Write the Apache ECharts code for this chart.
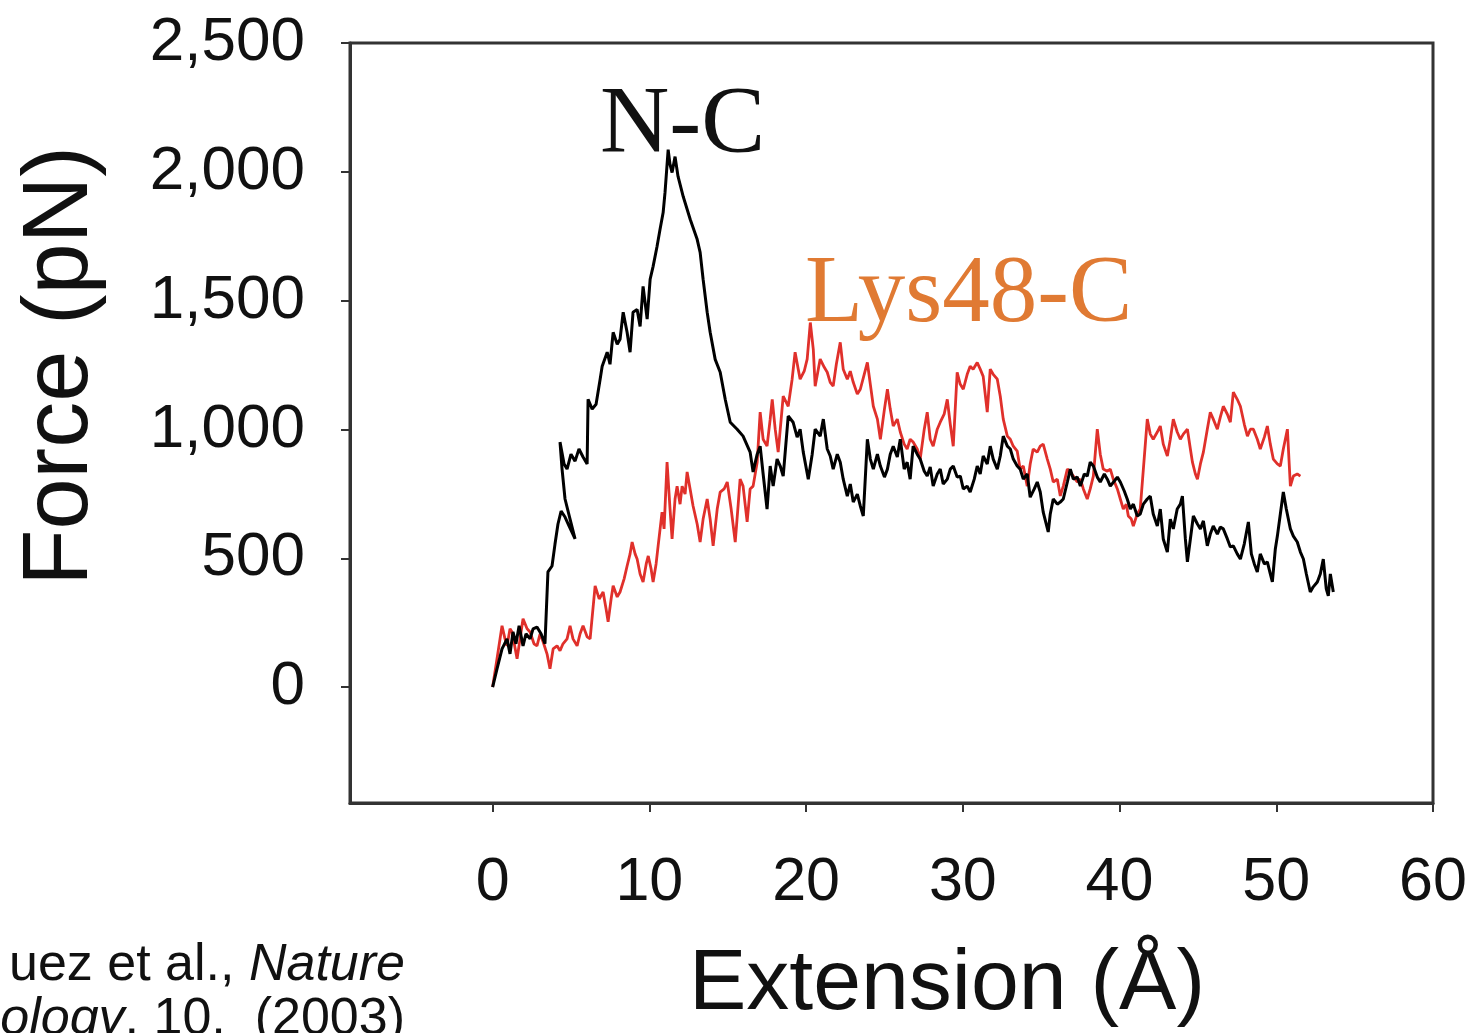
<!DOCTYPE html>
<html>
<head>
<meta charset="utf-8">
<title>Force vs Extension</title>
<script src="https://cdn.jsdelivr.net/npm/echarts@6/dist/echarts.min.js"></script>
<style>
  html, body { margin: 0; padding: 0; background: #fff; }
  #main { width: 1477px; height: 1033px; }
</style>
</head>
<body>
<div id="main"></div>
<script>
'use strict'
// tick labels
var xTicks = [0, 10, 20, 30, 40, 50, 60];
var yTicks = [0, 500, 1000, 1500, 2000, 2500];

// N-C pulling trace: [extension (Å), force (pN)]
var ncTrace = [[0,0],[0.28,71],[0.60,148],[0.92,187],[1.11,129],[1.30,214],[1.49,168],[1.69,238],[1.94,160],[2.13,207],[2.39,187],[2.58,226],[2.83,233],[3.09,207],[3.34,168],[3.53,447],[3.79,470],[3.98,555],[4.17,633],[4.37,683],[4.62,660],[4.88,625],[5.26,575],[4.94,652],[4.62,730],[4.43,846],[4.30,951],[4.56,866],[4.75,846],[5.00,904],[5.26,877],[5.51,924],[5.77,893],[6.03,866],[6.09,1117],[6.35,1079],[6.60,1098],[6.86,1195],[6.99,1245],[7.31,1300],[7.49,1253],[7.69,1377],[7.95,1331],[8.13,1350],[8.33,1455],[8.58,1377],[8.77,1300],[8.96,1455],[9.22,1466],[9.41,1400],[9.60,1555],[9.86,1428],[10.05,1583],[10.24,1633],[10.49,1710],[10.68,1776],[10.88,1842],[11.00,1920],[11.20,2086],[11.32,2028],[11.45,1997],[11.64,2059],[11.83,1982],[12.16,1904],[12.61,1815],[13.05,1738],[13.24,1687],[13.43,1583],[13.69,1455],[13.88,1377],[14.20,1272],[14.52,1222],[14.84,1117],[15.16,1028],[15.60,1001],[15.98,974],[16.43,912],[16.62,835],[16.88,904],[17.07,935],[17.26,827],[17.51,691],[17.71,858],[17.90,780],[18.15,885],[18.35,858],[18.54,819],[18.86,1052],[19.17,1028],[19.43,970],[19.62,1001],[19.82,912],[20.14,807],[20.39,904],[20.58,1001],[20.90,974],[21.10,1040],[21.35,924],[21.54,897],[21.73,846],[21.99,904],[22.18,873],[22.37,807],[22.63,741],[22.82,788],[23.01,718],[23.27,749],[23.46,703],[23.65,664],[23.91,962],[24.10,885],[24.29,846],[24.55,904],[24.74,858],[25.00,815],[25.19,846],[25.37,904],[25.56,935],[25.82,893],[26.01,962],[26.26,846],[26.45,873],[26.64,807],[26.83,935],[27.09,904],[27.28,885],[27.54,838],[27.73,819],[27.92,854],[28.11,780],[28.37,827],[28.56,846],[28.75,788],[29.01,807],[29.20,846],[29.39,858],[29.64,815],[29.84,819],[30.03,769],[30.28,780],[30.47,757],[30.73,807],[30.92,858],[31.11,827],[31.30,897],[31.56,866],[31.75,935],[31.94,885],[32.20,846],[32.39,897],[32.58,974],[32.84,935],[33.03,924],[33.22,885],[33.47,858],[33.66,846],[33.86,807],[34.11,827],[34.30,737],[34.56,769],[34.75,796],[34.94,757],[35.13,679],[35.45,602],[35.58,672],[35.77,730],[36.03,710],[36.22,718],[36.41,730],[36.67,796],[36.86,846],[37.05,807],[37.30,815],[37.50,780],[37.75,827],[37.94,819],[38.13,873],[38.33,858],[38.58,815],[38.77,796],[39.03,827],[39.22,807],[39.41,780],[39.67,800],[39.86,815],[40.05,796],[40.30,761],[40.49,730],[40.69,691],[40.88,710],[41.13,664],[41.32,672],[41.52,710],[41.77,730],[41.96,741],[42.15,672],[42.41,625],[42.60,691],[42.79,575],[43.05,524],[43.24,652],[43.43,614],[43.68,691],[43.88,710],[44.01,741],[44.20,575],[44.33,486],[44.52,575],[44.71,664],[44.97,633],[45.16,614],[45.35,645],[45.60,548],[45.79,594],[45.98,625],[46.24,594],[46.43,621],[46.62,614],[46.88,575],[47.07,544],[47.26,548],[47.51,517],[47.71,497],[47.96,556],[48.22,641],[48.41,517],[48.60,478],[48.79,447],[48.98,517],[49.24,478],[49.43,486],[49.62,439],[49.75,408],[49.94,536],[50.07,586],[50.26,672],[50.45,757],[50.64,691],[50.90,614],[51.09,586],[51.34,563],[51.54,524],[51.73,497],[51.92,439],[52.17,369],[52.36,389],[52.62,408],[52.81,439],[53.00,497],[53.19,381],[53.32,354],[53.45,439],[53.64,369]];

// Lys48-C pulling trace: [extension (Å), force (pN)]
var lysTrace = [[0,0],[0.28,110],[0.60,238],[0.79,187],[0.92,160],[1.11,226],[1.24,214],[1.56,110],[1.75,187],[1.94,265],[2.20,226],[2.39,214],[2.64,168],[2.83,160],[3.03,207],[3.22,176],[3.47,129],[3.66,71],[3.86,148],[4.11,160],[4.30,141],[4.49,168],[4.75,187],[4.94,238],[5.13,187],[5.39,160],[5.58,207],[5.77,238],[6.03,195],[6.22,187],[6.54,393],[6.80,342],[7.05,369],[7.24,303],[7.37,253],[7.56,342],[7.69,393],[7.95,350],[8.13,369],[8.39,420],[8.58,470],[8.77,517],[8.90,563],[9.09,517],[9.22,497],[9.41,439],[9.60,408],[9.80,478],[9.93,509],[10.11,459],[10.24,408],[10.43,478],[10.56,548],[10.81,679],[10.94,614],[11.13,873],[11.32,691],[11.45,575],[11.64,730],[11.77,780],[11.96,710],[12.09,780],[12.28,749],[12.41,835],[12.60,769],[12.79,703],[13.05,633],[13.24,563],[13.43,652],[13.69,730],[13.88,652],[14.07,548],[14.33,691],[14.52,757],[14.77,769],[14.97,796],[15.22,691],[15.48,563],[15.67,710],[15.79,807],[15.98,780],[16.24,641],[16.43,769],[16.62,780],[16.88,873],[17.07,1067],[17.26,962],[17.51,935],[17.71,1040],[17.84,1117],[18.03,1001],[18.22,912],[18.41,1040],[18.54,1129],[18.86,1090],[19.11,1195],[19.30,1300],[19.50,1234],[19.62,1195],[19.88,1226],[20.07,1273],[20.27,1415],[20.46,1311],[20.58,1168],[20.78,1234],[20.90,1273],[21.16,1241],[21.35,1222],[21.54,1183],[21.73,1168],[21.93,1253],[22.18,1338],[22.37,1234],[22.63,1195],[22.82,1226],[23.01,1183],[23.27,1137],[23.46,1156],[23.71,1214],[23.91,1260],[24.10,1175],[24.29,1090],[24.55,1040],[24.74,962],[25.00,1079],[25.19,1156],[25.37,1079],[25.56,1013],[25.82,1040],[26.01,990],[26.26,943],[26.45,924],[26.64,962],[26.83,951],[27.09,924],[27.28,885],[27.54,1001],[27.73,1067],[27.92,962],[28.11,935],[28.37,1001],[28.56,1028],[28.81,1059],[29.01,1117],[29.20,1020],[29.39,935],[29.64,1222],[29.83,1176],[30.03,1156],[30.28,1214],[30.47,1245],[30.66,1234],[30.92,1260],[31.11,1234],[31.30,1206],[31.56,1067],[31.75,1234],[31.94,1214],[32.20,1195],[32.39,1129],[32.58,1040],[32.84,974],[33.03,962],[33.22,935],[33.47,916],[33.66,846],[33.86,858],[34.11,780],[34.30,866],[34.49,924],[34.75,912],[34.94,935],[35.13,943],[35.39,885],[35.58,846],[35.77,796],[36.03,807],[36.22,742],[36.41,780],[36.67,846],[36.86,835],[37.05,819],[37.30,796],[37.50,807],[37.69,769],[37.94,730],[38.13,769],[38.33,819],[38.58,1001],[38.77,904],[38.96,846],[39.22,838],[39.41,846],[39.60,807],[39.86,769],[40.05,730],[40.24,691],[40.43,710],[40.56,664],[40.75,652],[40.88,625],[41.13,672],[41.32,691],[41.52,846],[41.77,1040],[41.96,982],[42.15,962],[42.41,990],[42.60,1013],[42.79,943],[43.05,897],[43.24,962],[43.43,1040],[43.68,990],[43.88,962],[44.07,982],[44.33,1001],[44.52,924],[44.65,873],[44.84,827],[44.97,807],[45.16,866],[45.35,912],[45.60,1001],[45.79,1067],[45.98,1040],[46.24,1001],[46.43,1048],[46.62,1090],[46.88,1059],[47.07,1028],[47.26,1145],[47.51,1117],[47.71,1090],[47.96,1020],[48.16,974],[48.35,1001],[48.54,1001],[48.79,962],[48.98,924],[49.24,970],[49.43,1013],[49.62,943],[49.81,885],[50.07,866],[50.26,858],[50.45,924],[50.71,1001],[50.90,780],[51.09,819],[51.34,827],[51.54,819]];

var sans = '"Liberation Sans", Arial, Helvetica, sans-serif';
var serif = '"Liberation Serif", "Times New Roman", serif';

var myChart = echarts.init(document.getElementById('main'));

function withComma(v) {
    return v >= 1000 ? Math.floor(v / 1000) + ',' + String(v % 1000).padStart(3, '0') : String(v);
}

myChart.setOption({
    animation: false,
    backgroundColor: '#fff',
    grid: {
        left: 350,
        right: 44,
        top: 43,
        bottom: 230,
        show: true,
        borderColor: '#333',
        borderWidth: 3
    },
    xAxis: {
        type: 'value',
        min: -9.1,
        max: 60,
        axisLine: { show: true, onZero: false, lineStyle: { color: '#333', width: 3 } },
        axisTick: { show: true, inside: false, length: 9, customValues: xTicks, lineStyle: { color: '#333', width: 2 } },
        axisLabel: {
            customValues: xTicks,
            margin: 50,
            fontSize: 61,
            fontFamily: sans,
            color: '#111'
        },
        splitLine: { show: false }
    },
    yAxis: {
        type: 'value',
        min: -450,
        max: 2500,
        axisLine: { show: true, onZero: false, lineStyle: { color: '#333', width: 3 } },
        axisTick: { show: true, inside: false, length: 9, customValues: yTicks, lineStyle: { color: '#333', width: 2 } },
        axisLabel: {
            customValues: yTicks,
            margin: 45,
            fontSize: 62,
            fontFamily: sans,
            color: '#111',
            formatter: withComma
        },
        splitLine: { show: false }
    },
    series: [
        {
            name: 'Lys48-C',
            type: 'line',
            data: lysTrace,
            showSymbol: false,
            symbol: 'none',
            lineStyle: { color: '#e0302b', width: 2.8 },
            z: 2
        },
        {
            name: 'N-C',
            type: 'line',
            data: ncTrace,
            showSymbol: false,
            symbol: 'none',
            lineStyle: { color: '#000', width: 3 },
            z: 3
        }
    ],
    graphic: [
        {
            type: 'text',
            x: 600, y: 127,
            style: { text: 'N-C', font: '96px ' + serif, fill: '#111', textAlign: 'left', textVerticalAlign: 'middle' }
        },
        {
            type: 'text',
            x: 805, y: 296,
            style: { text: 'Lys48-C', font: '95px ' + serif, fill: '#e07a33', textAlign: 'left', textVerticalAlign: 'middle' }
        },
        {
            type: 'text',
            x: 62, y: 366,
            rotation: Math.PI / 2,
            style: { text: 'Force (pN)', font: '92px ' + sans, fill: '#111', textAlign: 'center', textVerticalAlign: 'middle' }
        },
        {
            type: 'text',
            x: 947, y: 985,
            style: { text: 'Extension (Å)', font: '86px ' + sans, fill: '#111', textAlign: 'center', textVerticalAlign: 'middle' }
        },
        {
            type: 'text',
            x: 405, y: 966,
            style: {
                text: '{n|uez et al., }{i|Nature}',
                textAlign: 'right',
                textVerticalAlign: 'middle',
                rich: {
                    n: { font: '52px ' + sans, fill: '#111' },
                    i: { font: 'italic 52px ' + sans, fill: '#111' }
                }
            }
        },
        {
            type: 'text',
            x: 405, y: 1020,
            style: {
                text: '{i|ology}{n|, 10,  (2003)}',
                textAlign: 'right',
                textVerticalAlign: 'middle',
                rich: {
                    n: { font: '52px ' + sans, fill: '#111' },
                    i: { font: 'italic 52px ' + sans, fill: '#111' }
                }
            }
        }
    ]
});
</script>
</body>
</html>
